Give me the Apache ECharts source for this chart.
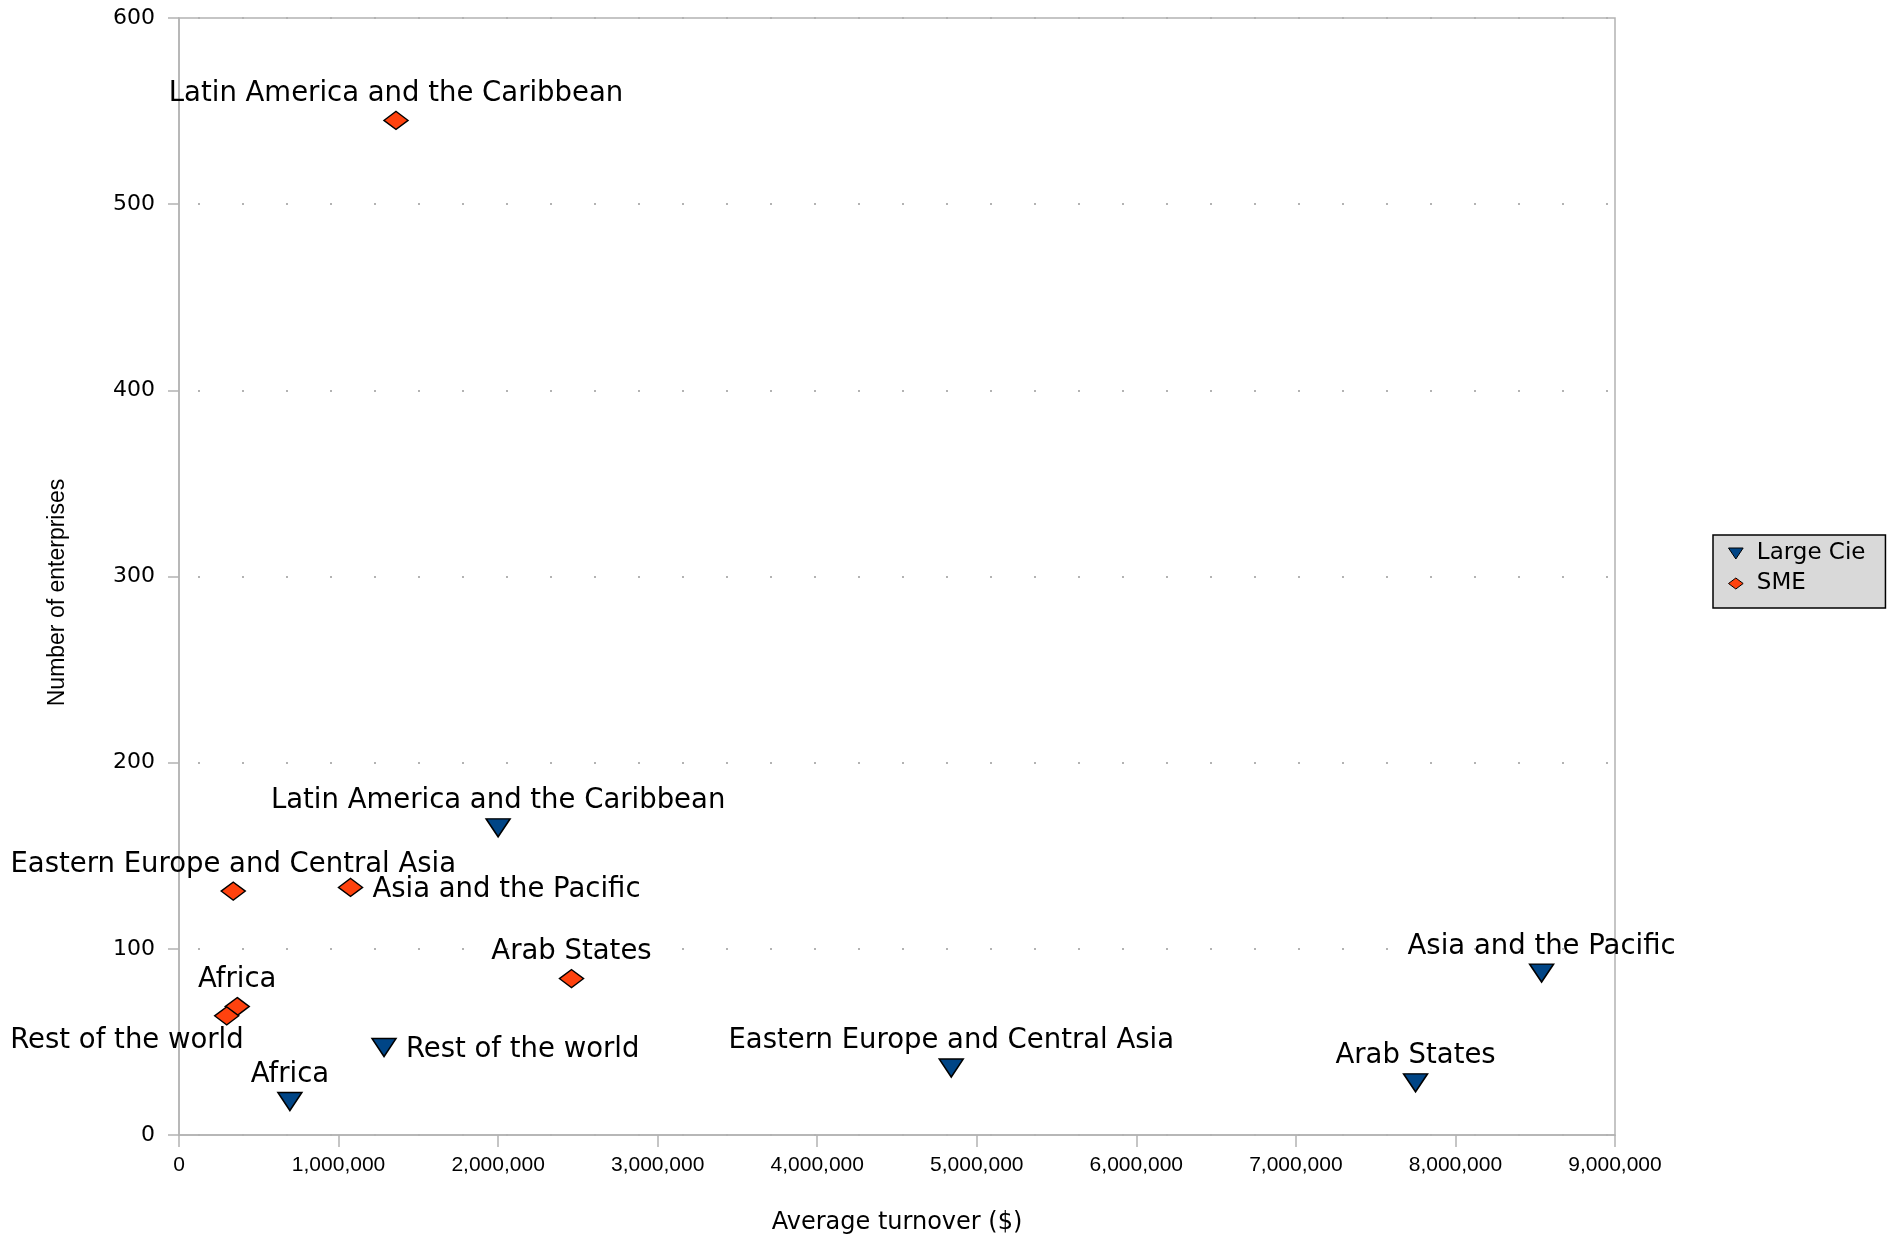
<!DOCTYPE html>
<html>
<head>
<meta charset="utf-8">
<title>Enterprises by average turnover</title>
<script src="https://cdn.jsdelivr.net/npm/echarts@6/dist/echarts.min.js"></script>
<style>
  html, body { margin: 0; padding: 0; background: #ffffff; }
  #chart { width: 1895px; height: 1234px; }
</style>
</head>
<body>
<div id="chart"></div>
<script>
// Regions, in the order the points are listed in both series
const regions = [
  'Africa',
  'Arab States',
  'Asia and the Pacific',
  'Eastern Europe and Central Asia',
  'Latin America and the Caribbean',
  'Rest of the world'
];

// Large companies: average turnover ($) and number of enterprises
const largeTurnover = [695000, 7750000, 8540000, 4840000, 2000000, 1285000];
const largeCount    = [18, 28, 87, 36, 165, 47];

// Small and medium enterprises
const smeTurnover = [365000, 2460000, 1075000, 340000, 1360000, 299000];
const smeCount    = [69, 84, 133, 131, 545, 64];

// Axis ranges and tick steps
const xMax = 9000000, xStep = 1000000;
const yMax = 600, yStep = 100;

// Where each region's label sits next to its marker
const largeLabelSide = { 'Rest of the world': 'right' };
const smeLabelSide = { 'Asia and the Pacific': 'right', 'Rest of the world': 'belowLeft' };

const BLUE = '#004586';
const ORANGE = '#ff420e';
const DOWN_TRIANGLE = 'path://M0,0L24,0L12,18Z';
const DIAMOND = 'path://M12,0L24,9L12,18L0,9Z';

const labelFont = { fontFamily: 'DejaVu Sans', fontSize: 27.5, color: '#000000' };

function labelFor(side) {
  if (side === 'right') return { position: 'right', distance: 9, offset: [0, 2] };
  if (side === 'belowLeft') {
    return { position: 'inside', align: 'right', verticalAlign: 'middle', offset: [17, 25] };
  }
  return { position: 'top', distance: 3 };
}

function buildPoints(xs, ys, sides) {
  return regions.map((name, i) => ({
    name: name,
    value: [xs[i], ys[i]],
    label: labelFor(sides[name])
  }));
}

function scatterSeries(name, color, symbol, points) {
  return {
    name: name,
    type: 'scatter',
    symbol: symbol,
    symbolSize: [24, 18],
    itemStyle: { color: color, borderColor: '#000000', borderWidth: 1.5, opacity: 1 },
    label: Object.assign({ show: true, formatter: '{b}', textBorderWidth: 0 }, labelFont),
    emphasis: { disabled: true },
    data: points
  };
}

const gridGray = '#b3b3b3';

const option = {
  animation: false,
  backgroundColor: '#ffffff',
  grid: {
    left: 179, right: 280, top: 18, bottom: 99,
    outerBoundsMode: 'none',
    containLabel: false,
    show: true, borderColor: gridGray, borderWidth: 1.5, backgroundColor: 'transparent'
  },
  legend: {
    orient: 'vertical',
    left: 1713,
    top: 535,
    backgroundColor: '#d9d9d9',
    borderColor: '#000000',
    borderWidth: 1.5,
    borderRadius: 0,
    padding: [7, 20, 13, 15],
    itemWidth: 32,
    itemHeight: 11,
    itemGap: 7,
    symbolKeepAspect: true,
    itemStyle: { borderColor: '#000000', borderWidth: 1 },
    textStyle: { fontFamily: 'DejaVu Sans', fontSize: 23, color: '#000000' },
    data: [
      { name: 'Large Cie', icon: DOWN_TRIANGLE },
      { name: 'SME', icon: DIAMOND }
    ]
  },
  xAxis: {
    type: 'value',
    min: 0, max: xMax, interval: xStep,
    name: 'Average turnover ($)',
    nameLocation: 'middle',
    nameGap: 76,
    nameTextStyle: { fontFamily: 'DejaVu Sans', fontSize: 24, color: '#000000' },
    axisLine: { show: true, lineStyle: { color: gridGray, width: 1.5 } },
    axisTick: { show: true, inside: false, length: 12, lineStyle: { color: gridGray, width: 1.5 } },
    axisLabel: {
      margin: 20,
      fontFamily: 'Liberation Sans', fontSize: 21, color: '#000000',
      formatter: v => v.toLocaleString('en-US')
    },
    splitLine: { show: false }
  },
  yAxis: {
    type: 'value',
    min: 0, max: yMax, interval: yStep,
    name: 'Number of enterprises',
    nameLocation: 'middle',
    nameRotate: 90,
    nameGap: 110,
    nameTextStyle: { fontFamily: 'Liberation Sans', fontSize: 23, color: '#000000', padding: [0, 32, 0, 0] },
    axisLine: { show: true, lineStyle: { color: gridGray, width: 1.5 } },
    axisTick: { show: true, inside: false, length: 11, lineStyle: { color: gridGray, width: 1.5 } },
    axisLabel: { margin: 24, fontFamily: 'DejaVu Sans', fontSize: 22, color: '#000000' },
    splitLine: {
      show: true,
      lineStyle: { color: gridGray, width: 2, type: [2, 42], dashOffset: 25 }
    }
  },
  series: [
    scatterSeries('Large Cie', BLUE, DOWN_TRIANGLE, buildPoints(largeTurnover, largeCount, largeLabelSide)),
    scatterSeries('SME', ORANGE, DIAMOND, buildPoints(smeTurnover, smeCount, smeLabelSide))
  ]
};

const chart = echarts.init(document.getElementById('chart'), null, { renderer: 'canvas' });
chart.setOption(option);
</script>
</body>
</html>
